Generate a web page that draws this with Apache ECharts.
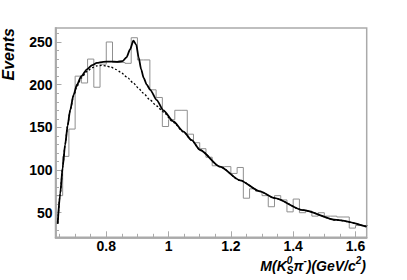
<!DOCTYPE html>
<html><head><meta charset="utf-8">
<script src="https://cdn.jsdelivr.net/npm/echarts@6/dist/echarts.min.js"></script>
<style>html,body{margin:0;padding:0;background:#fff}#c{width:407px;height:280px}</style>
</head><body><div id="c"></div>
<script>
// ---- data ----
const binStart = 0.64;
const binWidth = 0.02;
const counts = [70,116,148,210,202,230,197,224,250,226,226,225,255,229,229,194,185,151,159,170,
                170,142,132,125,115,105,104,104,96,103,67,78,75,70,57,70,65,51,66,50,
                52,46,50,46,46,45,45,32,35,35];
const fitX = [0.644,0.652,0.660,0.668,0.676,0.684,0.695,0.706,0.720,0.738,0.755,0.770,0.790,0.813,0.835,0.852,0.865,0.876,0.887,0.896,0.904,0.912,0.920,0.930,0.941,0.962,0.983,1.015,1.048,1.074,1.101,1.165,1.229,1.293,1.341,1.432,1.539,1.635];
const fitY = [37,72,103,130,152,170,188,200,210,218,223,225.5,226.8,227,226.8,227.5,232,241,251.5,247,232,218,208,200,194,182,170,157,145,135,123.5,104,88,75,67,53,41.5,33.6];
const bkgX = [0.644,0.652,0.660,0.668,0.676,0.684,0.695,0.706,0.720,0.738,0.755,0.770,0.785,0.800,0.815,0.830,0.845,0.866,0.887,0.903,0.919,0.941,0.962,0.983,1.015,1.048,1.074,1.101,1.165,1.229,1.293,1.341,1.432,1.539,1.635];
const bkgY = [37,72,103,130,152,170,187,198,208,215.5,220,222,222.5,222,220.5,218,215,209,202,196,190,182,175,168,156,144.5,135,123.5,104,88,75,67,53,41.5,33.6];
const xMajorTicks = [0.8,1,1.2,1.4,1.6];
const xMinorTicks = [0.65,0.7,0.75,0.85,0.9,0.95,1.05,1.1,1.15,1.25,1.3,1.35,1.45,1.5,1.55];
const yMajorTicks = [50,100,150,200,250];
const yMinorTicks = [30,40,60,70,80,90,110,120,130,140,160,170,180,190,210,220,230,240,260];

// ---- build ----
const histData = counts.map((v,i)=>[+(binStart+i*binWidth).toFixed(4), v]);
histData.push([+(binStart+counts.length*binWidth).toFixed(4), counts[counts.length-1]]);
const fitData = fitX.map((x,i)=>[x,fitY[i]]);
const bkgData = bkgX.map((x,i)=>[x,bkgY[i]]);

const X_MIN=0.637, X_MAX=1.636, Y_MIN=21.2, Y_MAX=266.4;
const AX='#aaaaaa';
const labelFont = {fontFamily:'"Liberation Sans", Arial, sans-serif', fontWeight:'bold', fontSize:14, color:'#000', lineHeight:12};

function xAxisDef(ticks, len, labels){
  return {type:'value', min:X_MIN, max:X_MAX, position:'bottom', offset:0,
    axisLine:{show:true, onZero:false, lineStyle:{color:AX, width:1.5}},
    axisTick:{show:true, inside:true, length:len, customValues:ticks, lineStyle:{color:AX,width:1}},
    axisLabel: labels ? Object.assign({show:true, margin:3, customValues:ticks}, labelFont) : {show:false},
    splitLine:{show:false}};
}
function yAxisDef(ticks, len, labels){
  return {type:'value', min:Y_MIN, max:Y_MAX, position:'left', offset:0,
    axisLine:{show:true, onZero:false, lineStyle:{color:AX, width:1.5}},
    axisTick:{show:true, inside:true, length:len, customValues:ticks, lineStyle:{color:AX,width:1}},
    axisLabel: labels ? Object.assign({show:true, margin:3, customValues:ticks}, labelFont) : {show:false},
    splitLine:{show:false}};
}

const chart = echarts.init(document.getElementById('c'), null, {renderer:'svg'});

// x-axis title pieces (sub/superscripts)
const cv = document.createElement('canvas').getContext('2d');
function tw(t,s){ cv.font = 'italic bold '+s+'px "Liberation Sans"'; return cv.measureText(t).width; }
const MAIN=14, SMALL=10, BASEY=265.5;
const pieces = [
  [{t:'M(K', s:MAIN, dy:0}],
  [{t:'0', s:SMALL, dy:-5.2},{t:'S', s:SMALL, dy:5.2}],
  [{t:'\u03c0', s:MAIN, dy:0}],
  [{t:'-', s:SMALL, dy:-5}],
  [{t:')(GeV/c', s:MAIN, dy:0}],
  [{t:'2', s:SMALL, dy:-5}],
  [{t:')', s:MAIN, dy:0}]
];
let total = 0;
const widths = pieces.map(p=>{const w=Math.max(...p.map(q=>tw(q.t,q.s))); total+=w; return w;});
let cx = 366 - total;
const titleEls = [];
pieces.forEach((p,i)=>{
  p.forEach(q=>{
    titleEls.push({type:'text', x:cx, y:BASEY+q.dy, style:{text:q.t, fill:'#000', lineHeight:(q.s===MAIN?13:9),
      font:'italic bold '+q.s+'px "Liberation Sans", Arial, sans-serif', textAlign:'left', textVerticalAlign:'middle'}});
  });
  cx += widths[i];
});

chart.setOption({
  animation:false,
  backgroundColor:'#fff',
  grid:{left:55.5, right:40.3, top:28, bottom:42.7, show:true, borderColor:AX, borderWidth:1.5, outerBoundsMode:'none'},
  xAxis:[xAxisDef(xMajorTicks,6,true), xAxisDef(xMinorTicks,3.5,false)],
  yAxis:[yAxisDef(yMajorTicks,6,true), yAxisDef(yMinorTicks,3.5,false)],
  series:[
    {type:'line', step:'end', data:histData, symbol:'none', lineStyle:{color:'#8f8f8f', width:1}, z:2},
    {type:'line', data:bkgData, symbol:'none', smooth:0.25, smoothMonotone:'x', lineStyle:{color:'#000', width:1.3, type:[2,2]}, z:3},
    {type:'line', data:fitData, symbol:'none', smooth:0.25, smoothMonotone:'x', lineStyle:{color:'#000', width:1.8}, z:4}
  ],
  graphic:[
    {type:'text', x:8.5, y:28, rotation:Math.PI/2, style:{text:'Events', fill:'#000', lineHeight:16,
      font:'italic bold 16px "Liberation Sans", Arial, sans-serif', textAlign:'right', textVerticalAlign:'middle'}}
  ].concat(titleEls)
});
</script></body></html>
